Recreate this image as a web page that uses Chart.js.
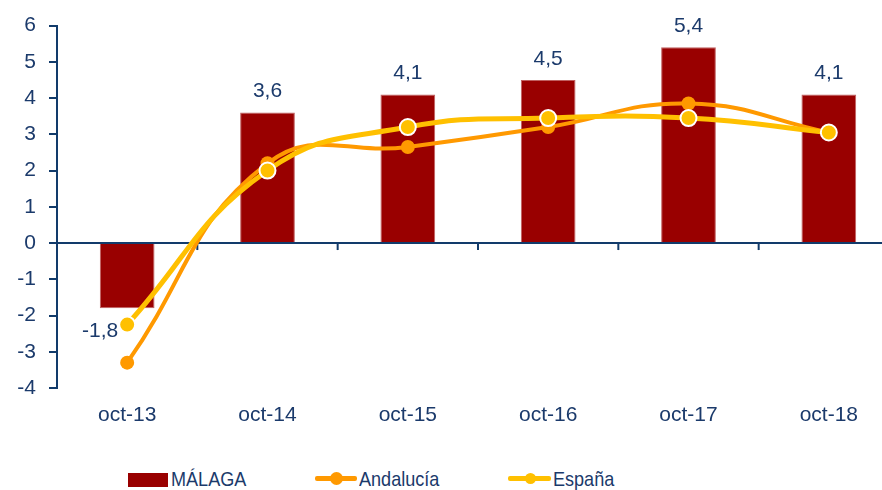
<!DOCTYPE html>
<html>
<head>
<meta charset="utf-8">
<script src="https://cdn.jsdelivr.net/npm/chart.js@4"></script>
<style>
  html, body { margin: 0; padding: 0; background: #fff; overflow: hidden; width: 882px; height: 490px; }
  #wrap { position: absolute; left: 0; top: 0; width: 909px; height: 440px; }
  .leg { position: absolute; font-family: "Liberation Sans", Arial, sans-serif; font-size: 21px; color: #1B3A6B; line-height: 24px; transform: scaleX(0.86); transform-origin: left center; white-space: nowrap; }
  .sym { position: absolute; }
</style>
</head>
<body>
<div id="wrap"><canvas id="chart" width="909" height="440"></canvas></div>

<div class="sym" style="left:128px; top:473px; width:40px; height:14px; background:#990000;"></div>
<div class="leg" style="left:171px; top:467px;">MÁLAGA</div>

<div class="sym" style="left:315px; top:476px; width:42px; height:5px; background:#FF9900; border-radius:2px;"></div>
<div class="sym" style="left:330px; top:472px; width:13px; height:13px; background:#FF9900; border-radius:50%;"></div>
<div class="leg" style="left:359px; top:467px;">Andalucía</div>

<div class="sym" style="left:508px; top:476px; width:43px; height:5px; background:#FFC000; border-radius:2px;"></div>
<div class="sym" style="left:525px; top:473px; width:11px; height:11px; background:#FFC000; border-radius:50%;"></div>
<div class="leg" style="left:553px; top:467px;">España</div>

<script>
const categories = ['oct-13', 'oct-14', 'oct-15', 'oct-16', 'oct-17', 'oct-18'];
const malaga = [-1.8, 3.6, 4.1, 4.5, 5.4, 4.1];
const andalucia = [-3.3, 2.2, 2.65, 3.2, 3.85, 3.05];
const espana = [-2.25, 2.0, 3.2, 3.45, 3.45, 3.05];

const navy = '#1B3A6B';
const axisLine = '#123B6B';

// bar value labels ("3,6") above the bars, below-left for negatives
const barLabels = {
  id: 'barLabels',
  afterDatasetsDraw(chart) {
    const ctx = chart.ctx;
    const meta = chart.getDatasetMeta(2);
    ctx.save();
    ctx.font = '21px "Liberation Sans", Arial, sans-serif';
    ctx.fillStyle = navy;
    ctx.textAlign = 'center';
    ctx.textBaseline = 'middle';
    meta.data.forEach((bar, i) => {
      const v = malaga[i];
      const txt = v.toFixed(1).replace('.', ',');
      if (v >= 0) {
        ctx.fillText(txt, bar.x, bar.y - 21);
      } else {
        ctx.fillText(txt, bar.x - 27, bar.y + 23);
      }
    });
    ctx.restore();
  }
};

// small tick marks between categories on the zero line
const zeroTicks = {
  id: 'zeroTicks',
  beforeDatasetsDraw(chart) {
    const x = chart.scales.x, y = chart.scales.y;
    const y0 = y.getPixelForValue(0);
    const ctx = chart.ctx;
    ctx.save();
    ctx.strokeStyle = axisLine;
    ctx.lineWidth = 2;
    for (let i = 0; i < categories.length - 1; i++) {
      const xb = (x.getPixelForValue(i) + x.getPixelForValue(i + 1)) / 2;
      ctx.beginPath();
      ctx.moveTo(xb, y0);
      ctx.lineTo(xb, y0 + 7);
      ctx.stroke();
    }
    ctx.restore();
  }
};

new Chart(document.getElementById('chart').getContext('2d'), {
  data: {
    labels: categories,
    datasets: [
      {
        type: 'line',
        label: 'España',
        data: espana,
        borderColor: '#FFC000',
        backgroundColor: '#FFC000',
        borderWidth: 5,
        pointRadius: 8,
        pointBorderColor: '#fff',
        pointBorderWidth: 2,
        pointBackgroundColor: '#FFC000',
        tension: 0.45,
        order: 1
      },
      {
        type: 'line',
        label: 'Andalucía',
        data: andalucia,
        borderColor: '#FF9900',
        backgroundColor: '#FF9900',
        borderWidth: 4,
        pointRadius: 7,
        pointBorderWidth: 0,
        pointBackgroundColor: '#FF9900',
        tension: 0.45,
        order: 2
      },
      {
        type: 'bar',
        label: 'MÁLAGA',
        data: malaga,
        backgroundColor: '#990000',
        borderColor: '#C06060',
        borderWidth: 1,
        barPercentage: 0.39,
        categoryPercentage: 1,
        order: 3
      }
    ]
  },
  options: {
    responsive: false,
    animation: false,
    layout: { padding: { top: 24, right: 2, left: 0, bottom: 0 } },
    plugins: {
      legend: { display: false },
      tooltip: { enabled: false }
    },
    scales: {
      x: {
        grid: { display: false, drawTicks: false },
        border: { display: false },
        ticks: {
          color: navy,
          padding: 15,
          font: { family: '"Liberation Sans", Arial, sans-serif', size: 21 }
        },
        afterFit(scale) { scale.height = 52; }
      },
      y: {
        min: -4,
        max: 6,
        ticks: {
          stepSize: 1,
          color: navy,
          padding: 13,
          font: { family: '"Liberation Sans", Arial, sans-serif', size: 21 }
        },
        grid: {
          drawOnChartArea: true,
          color: ctx => (ctx.tick && ctx.tick.value === 0 ? axisLine : 'transparent'),
          tickColor: axisLine,
          tickLength: 8,
          lineWidth: 2
        },
        border: { display: true, color: axisLine, width: 2 },
        afterFit(scale) { scale.width = 57; }
      }
    }
  },
  plugins: [zeroTicks, barLabels]
});
</script>
</body>
</html>
